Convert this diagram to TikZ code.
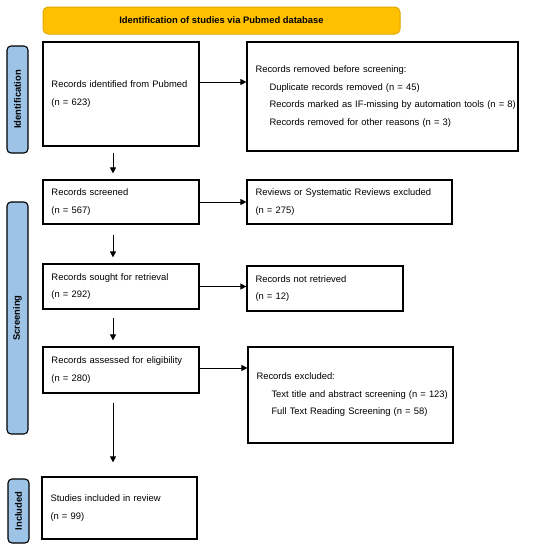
\documentclass[tikz,border=0pt]{standalone}
\usepackage{fontspec}
\setmainfont{Liberation Sans}
\usetikzlibrary{arrows.meta}
\definecolor{bannerfill}{HTML}{FFC000}
\definecolor{bannerline}{HTML}{E3A600}
\definecolor{sidefill}{HTML}{9DC3E6}
\tikzset{
  box/.style={draw=black, line width=1.2pt, rectangle, inner xsep=8.5pt, inner ysep=0pt,
    align=left, font=\fontsize{9.4}{17.5}\selectfont},
  side/.style={draw=black, line width=1.1pt, fill=sidefill, rounded corners=4pt, rotate=90,
    minimum height=21pt, inner sep=0pt, font=\bfseries\fontsize{9.4}{11}\selectfont},
  arr/.style={line width=1pt, -{Triangle[length=6pt,width=6pt]}}
}
\begin{document}
\begin{tikzpicture}[x=1pt,y=-1pt]
\useasboundingbox (0,0) rectangle (534,550);
% banner
\node[draw=bannerline, line width=1pt, fill=bannerfill, rounded corners=5pt,
  minimum width=357pt, minimum height=27pt, font=\bfseries\fontsize{9.4}{11}\selectfont]
  (title) at (221.5,20.5) {Identification of studies via Pubmed database};
% side labels
\node[side, minimum width=107pt] (sid) at (17.5,99.5) {Identification};
\node[side, minimum width=232pt] (sscr) at (17.5,318) {Screening};
\node[side, minimum width=64pt] (sinc) at (18.5,511) {Included};
% boxes
\node[box, minimum width=156pt, minimum height=104pt, text width=139pt] (b1) at (121,94)
  {\mbox{Records identified from Pubmed}\\(n = 623)};
\node[box, minimum width=271pt, minimum height=109pt, text width=254pt] (b2) at (382.5,96.5)
  {Records removed before screening:\\
   \hspace*{14pt}Duplicate records removed (n = 45)\\
   \hspace*{14pt}\mbox{Records marked as IF-missing by automation tools (n = 8)}\\
   \hspace*{14pt}Records removed for other reasons (n = 3)};
\node[box, minimum width=156pt, minimum height=44pt, text width=139pt] (b3) at (121,202)
  {Records screened\\(n = 567)};
\node[box, minimum width=205pt, minimum height=44pt, text width=188pt] (b4) at (349.5,202)
  {\mbox{Reviews or Systematic Reviews excluded}\\(n = 275)};
\node[box, minimum width=156pt, minimum height=45pt, text width=139pt] (b5) at (121,286.5)
  {Records sought for retrieval\\(n = 292)};
\node[box, minimum width=156pt, minimum height=45pt, text width=139pt] (b6) at (325,288.5)
  {Records not retrieved\\(n = 12)};
\node[box, minimum width=156pt, minimum height=46pt, text width=139pt] (b7) at (121,370)
  {\mbox{Records assessed for eligibility}\\(n = 280)};
\node[box, minimum width=205pt, minimum height=96pt, text width=188pt] (b8) at (350.5,395)
  {Records excluded:\\
   \hspace*{15pt}\mbox{Text title and abstract screening (n = 123)}\\
   \hspace*{15pt}Full Text Reading Screening (n = 58)};
\node[box, minimum width=155pt, minimum height=62pt, text width=138pt] (b9) at (119.5,508)
  {Studies included in review\\(n = 99)};
% horizontal arrows
\draw[arr] ([yshift=12pt]b1.east) -- ([yshift=12pt]b1.east -| b2.west);
\draw[arr] (b3.east) -- (b3.east -| b4.west);
\draw[arr] (b5.east) -- (b5.east -| b6.west);
\draw[arr] ([yshift=2pt]b7.east) -- ([yshift=2pt]b7.east -| b8.west);
% vertical arrows
\draw[arr, shorten <=6pt, shorten >=6pt] ([xshift=-8pt]b1.south) -- ([xshift=-8pt]b1.south |- b3.north);
\draw[arr, shorten <=10pt, shorten >=6pt] ([xshift=-8pt]b3.south) -- ([xshift=-8pt]b3.south |- b5.north);
\draw[arr, shorten <=8pt, shorten >=6pt] ([xshift=-8pt]b5.south) -- ([xshift=-8pt]b5.south |- b7.north);
\draw[arr, shorten <=9pt, shorten >=14pt] ([xshift=-8pt]b7.south) -- ([xshift=-8pt]b7.south |- b9.north);
\end{tikzpicture}
\end{document}
